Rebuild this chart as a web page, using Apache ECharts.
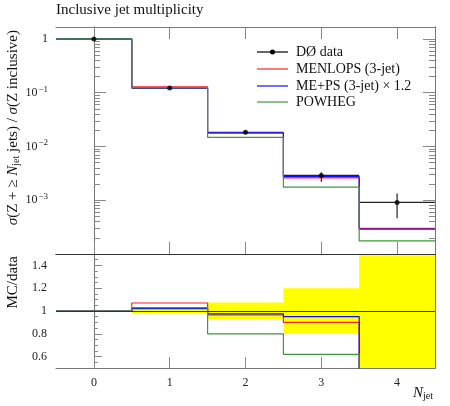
<!DOCTYPE html>
<html>
<head>
<meta charset="utf-8">
<script src="https://cdn.jsdelivr.net/npm/echarts@6/dist/echarts.min.js"></script>
<style>
html, body { margin: 0; padding: 0; background: #fff; }
#chart { width: 450px; height: 406px; }
</style>
</head>
<body>
<div id="chart"></div>
<script>
// bins of N_jet
const nJet = [0, 1, 2, 3, 4];
const binEdges = [-0.5, 0.5, 1.5, 2.5, 3.5, 4.5];

// D0 data with errors
const dataVal = [1.0, 0.122, 0.0184, 0.0029, 0.00091];
const dataLo = [0.995, 0.119, 0.0170, 0.0022, 0.00046];
const dataHi = [1.005, 0.125, 0.0198, 0.0033, 0.00133];

// MC predictions
const menlops = [1.0, 0.128, 0.0178, 0.0026, 0.00030];
const meps = [1.0, 0.1225, 0.0179, 0.00276, 0.00029];
const powheg = [1.0, 0.124, 0.0148, 0.00175, 0.000176];

// ratio panel (MC / data) and data uncertainty band
const menlopsRatio = [1.0, 1.07, 0.965, 0.90, 0.33];
const mepsRatio = [1.0, 1.02, 0.975, 0.95, 0.32];
const powhegRatio = [1.0, 1.03, 0.80, 0.62, 0.19];
const bandLo = [0.995, 0.975, 0.925, 0.80, 0.45];
const bandHi = [1.005, 1.03, 1.075, 1.20, 1.49];

// tick values
const xTicks = [0, 1, 2, 3, 4];
const logMajor = [0.001, 0.01, 0.1, 1];
const ratioMajor = [0.6, 0.8, 1, 1.2, 1.4];

const logMinor = [];
[1e-4, 1e-3, 1e-2, 1e-1].forEach(function (d) {
    for (let k = 2; k <= 9; k++) { logMinor.push(+(k * d).toPrecision(3)); }
});
const ratioMinor = [];
for (let k = 11; k <= 29; k++) { if (k % 4 !== 0) { ratioMinor.push(+(k * 0.05).toFixed(2)); } }

const FONT = 'Liberation Serif';
const frameColor = '#777';
const tickColor = '#888';

function stepPoints(vals) {
    return binEdges.map(function (e, i) { return [e, vals[Math.min(i, vals.length - 1)]]; });
}

function logLabel(v) {
    if (Math.abs(v - 1) < 1e-9) { return '{b|1}'; }
    const e = Math.round(Math.log10(v));
    return '{b|10}{sup|\u2212' + (-e) + '}';
}

const labelRich = {
    b: { fontFamily: FONT, fontSize: 12, color: '#222' },
    sup: { fontFamily: FONT, fontSize: 9, color: '#222', padding: [0, 0, 7, 1] }
};

function xAx(grid, pos, opts) {
    return Object.assign({
        type: 'value', gridIndex: grid, position: pos, min: -0.5, max: 4.5,
        axisLine: { show: true, lineStyle: { color: frameColor, width: 1 } },
        axisTick: { show: true, inside: true, length: 12, customValues: xTicks, lineStyle: { color: tickColor } },
        axisLabel: { show: false },
        splitLine: { show: false }
    }, opts || {});
}

function yAx(grid, pos, type, min, max, ticks, len, opts) {
    return Object.assign({
        type: type, gridIndex: grid, position: pos, min: min, max: max,
        axisLine: { show: true, lineStyle: { color: frameColor, width: 1 } },
        axisTick: { show: true, inside: true, length: len, customValues: ticks, lineStyle: { color: tickColor } },
        axisLabel: { show: false },
        splitLine: { show: false }
    }, opts || {});
}

const lineBase = { type: 'line', step: 'end', symbol: 'none', silent: true, animation: false };
const subRich = {
    i: { fontFamily: FONT, fontSize: 15, fontStyle: 'italic', fill: '#111' },
    s: { fontFamily: FONT, fontSize: 10, fill: '#111', padding: [7, 0, 0, 0] }
};

const option = {
    animation: false,
    textStyle: { fontFamily: FONT },
    grid: [
        { left: 56, top: 27, width: 379, height: 227 },
        { left: 56, top: 254, width: 379, height: 114 }
    ],
    xAxis: [
        xAx(0, 'bottom'),
        xAx(0, 'top'),
        xAx(1, 'bottom', {
            axisTick: { show: true, inside: true, length: 11, customValues: xTicks, lineStyle: { color: tickColor } },
            axisLabel: { show: true, customValues: xTicks, margin: 9, fontFamily: FONT, fontSize: 12, color: '#222' }
        }),
        xAx(1, 'top', { axisTick: { show: false }, axisLine: { show: true, lineStyle: { color: '#333' } } })
    ],
    yAxis: [
        yAx(0, 'left', 'log', 1e-4, 1.67, logMajor, 12, {
            axisLabel: { show: true, customValues: logMajor, margin: 8, formatter: logLabel, rich: labelRich }
        }),
        yAx(0, 'left', 'log', 1e-4, 1.67, logMinor, 6),
        yAx(0, 'right', 'log', 1e-4, 1.67, logMajor, 12),
        yAx(0, 'right', 'log', 1e-4, 1.67, logMinor, 6),
        yAx(1, 'left', 'value', 0.5, 1.5, ratioMajor, 8, {
            axisLabel: { show: true, customValues: ratioMajor, margin: 9, fontFamily: FONT, fontSize: 12, color: '#222' }
        }),
        yAx(1, 'left', 'value', 0.5, 1.5, ratioMinor, 4),
        yAx(1, 'right', 'value', 0.5, 1.5, ratioMajor, 8),
        yAx(1, 'right', 'value', 0.5, 1.5, ratioMinor, 4)
    ],
    series: [
        // data: horizontal bin bar + vertical error bar
        {
            type: 'custom', xAxisIndex: 0, yAxisIndex: 0, silent: true, z: 2,
            data: nJet.map(function (n, i) { return [n, dataVal[i], dataLo[i], dataHi[i]]; }),
            encode: { x: 0, y: 1 },
            renderItem: function (params, api) {
                const x = api.value(0), v = api.value(1);
                const a = api.coord([x - 0.5, v]), b = api.coord([x + 0.5, v]);
                const lo = api.coord([x, api.value(2)]), hi = api.coord([x, api.value(3)]);
                const st = { stroke: '#222', lineWidth: 1.2 };
                return {
                    type: 'group', children: [
                        { type: 'line', shape: { x1: a[0], y1: a[1], x2: b[0], y2: b[1] }, style: st },
                        { type: 'line', shape: { x1: lo[0], y1: lo[1], x2: hi[0], y2: hi[1] }, style: st }
                    ]
                };
            }
        },
        Object.assign({}, lineBase, { xAxisIndex: 0, yAxisIndex: 0, z: 3, data: stepPoints(menlops), lineStyle: { color: '#ff2020', width: 1.2 } }),
        Object.assign({}, lineBase, { xAxisIndex: 0, yAxisIndex: 0, z: 3, data: stepPoints(meps), lineStyle: { color: '#1010ff', width: 1.2 } }),
        Object.assign({}, lineBase, { xAxisIndex: 0, yAxisIndex: 0, z: 3, data: stepPoints(powheg), lineStyle: { color: '#3a9a3a', width: 1.2 } }),
        {
            type: 'scatter', xAxisIndex: 0, yAxisIndex: 0, silent: true, z: 5,
            symbol: 'circle', symbolSize: 5, itemStyle: { color: '#000' },
            data: nJet.map(function (n, i) { return [n, dataVal[i]]; })
        },
        // ratio: data uncertainty band
        {
            type: 'custom', xAxisIndex: 2, yAxisIndex: 4, silent: true, z: 1,
            data: nJet.map(function (n, i) { return [n, bandLo[i], bandHi[i]]; }),
            encode: { x: 0, y: [1, 2] },
            renderItem: function (params, api) {
                const x = api.value(0);
                const p1 = api.coord([x - 0.5, api.value(2)]), p2 = api.coord([x + 0.5, api.value(1)]);
                const rect = echarts.graphic.clipRectByRect(
                    { x: p1[0], y: p1[1], width: p2[0] - p1[0], height: p2[1] - p1[1] },
                    params.coordSys);
                return rect && { type: 'rect', shape: rect, style: { fill: '#ffff00' } };
            },
            markLine: {
                silent: true, symbol: 'none', label: { show: false }, animation: false,
                lineStyle: { color: '#333', width: 1, type: 'solid' },
                data: [{ yAxis: 1 }]
            }
        },
        Object.assign({}, lineBase, { xAxisIndex: 2, yAxisIndex: 4, z: 3, data: stepPoints(menlopsRatio), lineStyle: { color: '#ff2020', width: 1.2 } }),
        Object.assign({}, lineBase, { xAxisIndex: 2, yAxisIndex: 4, z: 3, data: stepPoints(mepsRatio), lineStyle: { color: '#1010ff', width: 1.2 } }),
        Object.assign({}, lineBase, { xAxisIndex: 2, yAxisIndex: 4, z: 3, data: stepPoints(powhegRatio), lineStyle: { color: '#3a9a3a', width: 1.2 } })
    ],
    graphic: [
        { type: 'text', left: 56, top: 3, style: { text: 'Inclusive jet multiplicity', fontFamily: FONT, fontSize: 15, fill: '#111' } },
        {
            type: 'text', x: 13, y: 30, rotation: Math.PI / 2,
            style: {
                text: '{i|\u03c3}(Z + \u2265 {i|N}{s|jet} jets) / {i|\u03c3}(Z inclusive)',
                fontFamily: FONT, fontSize: 15, fill: '#111', align: 'right', verticalAlign: 'middle',
                rich: subRich
            }
        },
        {
            type: 'text', x: 13, y: 256, rotation: Math.PI / 2,
            style: { text: 'MC/data', fontFamily: FONT, fontSize: 15, fill: '#111', align: 'right', verticalAlign: 'middle' }
        },
        {
            type: 'text', x: 433, y: 393,
            style: { text: '{i|N}{s|jet}', align: 'right', verticalAlign: 'middle', rich: subRich }
        },
        // legend
        { type: 'line', shape: { x1: 257, y1: 52, x2: 288, y2: 52 }, style: { stroke: '#000', lineWidth: 1.2 } },
        { type: 'circle', shape: { cx: 272.5, cy: 52, r: 2.5 }, style: { fill: '#000' } },
        { type: 'text', x: 296, y: 52, style: { text: 'D\u00d8 data', fontFamily: FONT, fontSize: 14, fill: '#111', verticalAlign: 'middle' } },
        { type: 'line', shape: { x1: 257, y1: 69, x2: 288, y2: 69 }, style: { stroke: '#ff2020', lineWidth: 1.2 } },
        { type: 'text', x: 296, y: 69, style: { text: 'MENLOPS (3-jet)', fontFamily: FONT, fontSize: 14, fill: '#111', verticalAlign: 'middle' } },
        { type: 'line', shape: { x1: 257, y1: 86, x2: 288, y2: 86 }, style: { stroke: '#1010ff', lineWidth: 1.2 } },
        { type: 'text', x: 296, y: 86, style: { text: 'ME+PS (3-jet) \u00d7 1.2', fontFamily: FONT, fontSize: 14, fill: '#111', verticalAlign: 'middle' } },
        { type: 'line', shape: { x1: 257, y1: 102, x2: 288, y2: 102 }, style: { stroke: '#3a9a3a', lineWidth: 1.2 } },
        { type: 'text', x: 296, y: 102, style: { text: 'POWHEG', fontFamily: FONT, fontSize: 14, fill: '#111', verticalAlign: 'middle' } }
    ]
};

const chart = echarts.init(document.getElementById('chart'), null, { renderer: 'canvas' });
chart.setOption(option);
</script>
</body>
</html>
